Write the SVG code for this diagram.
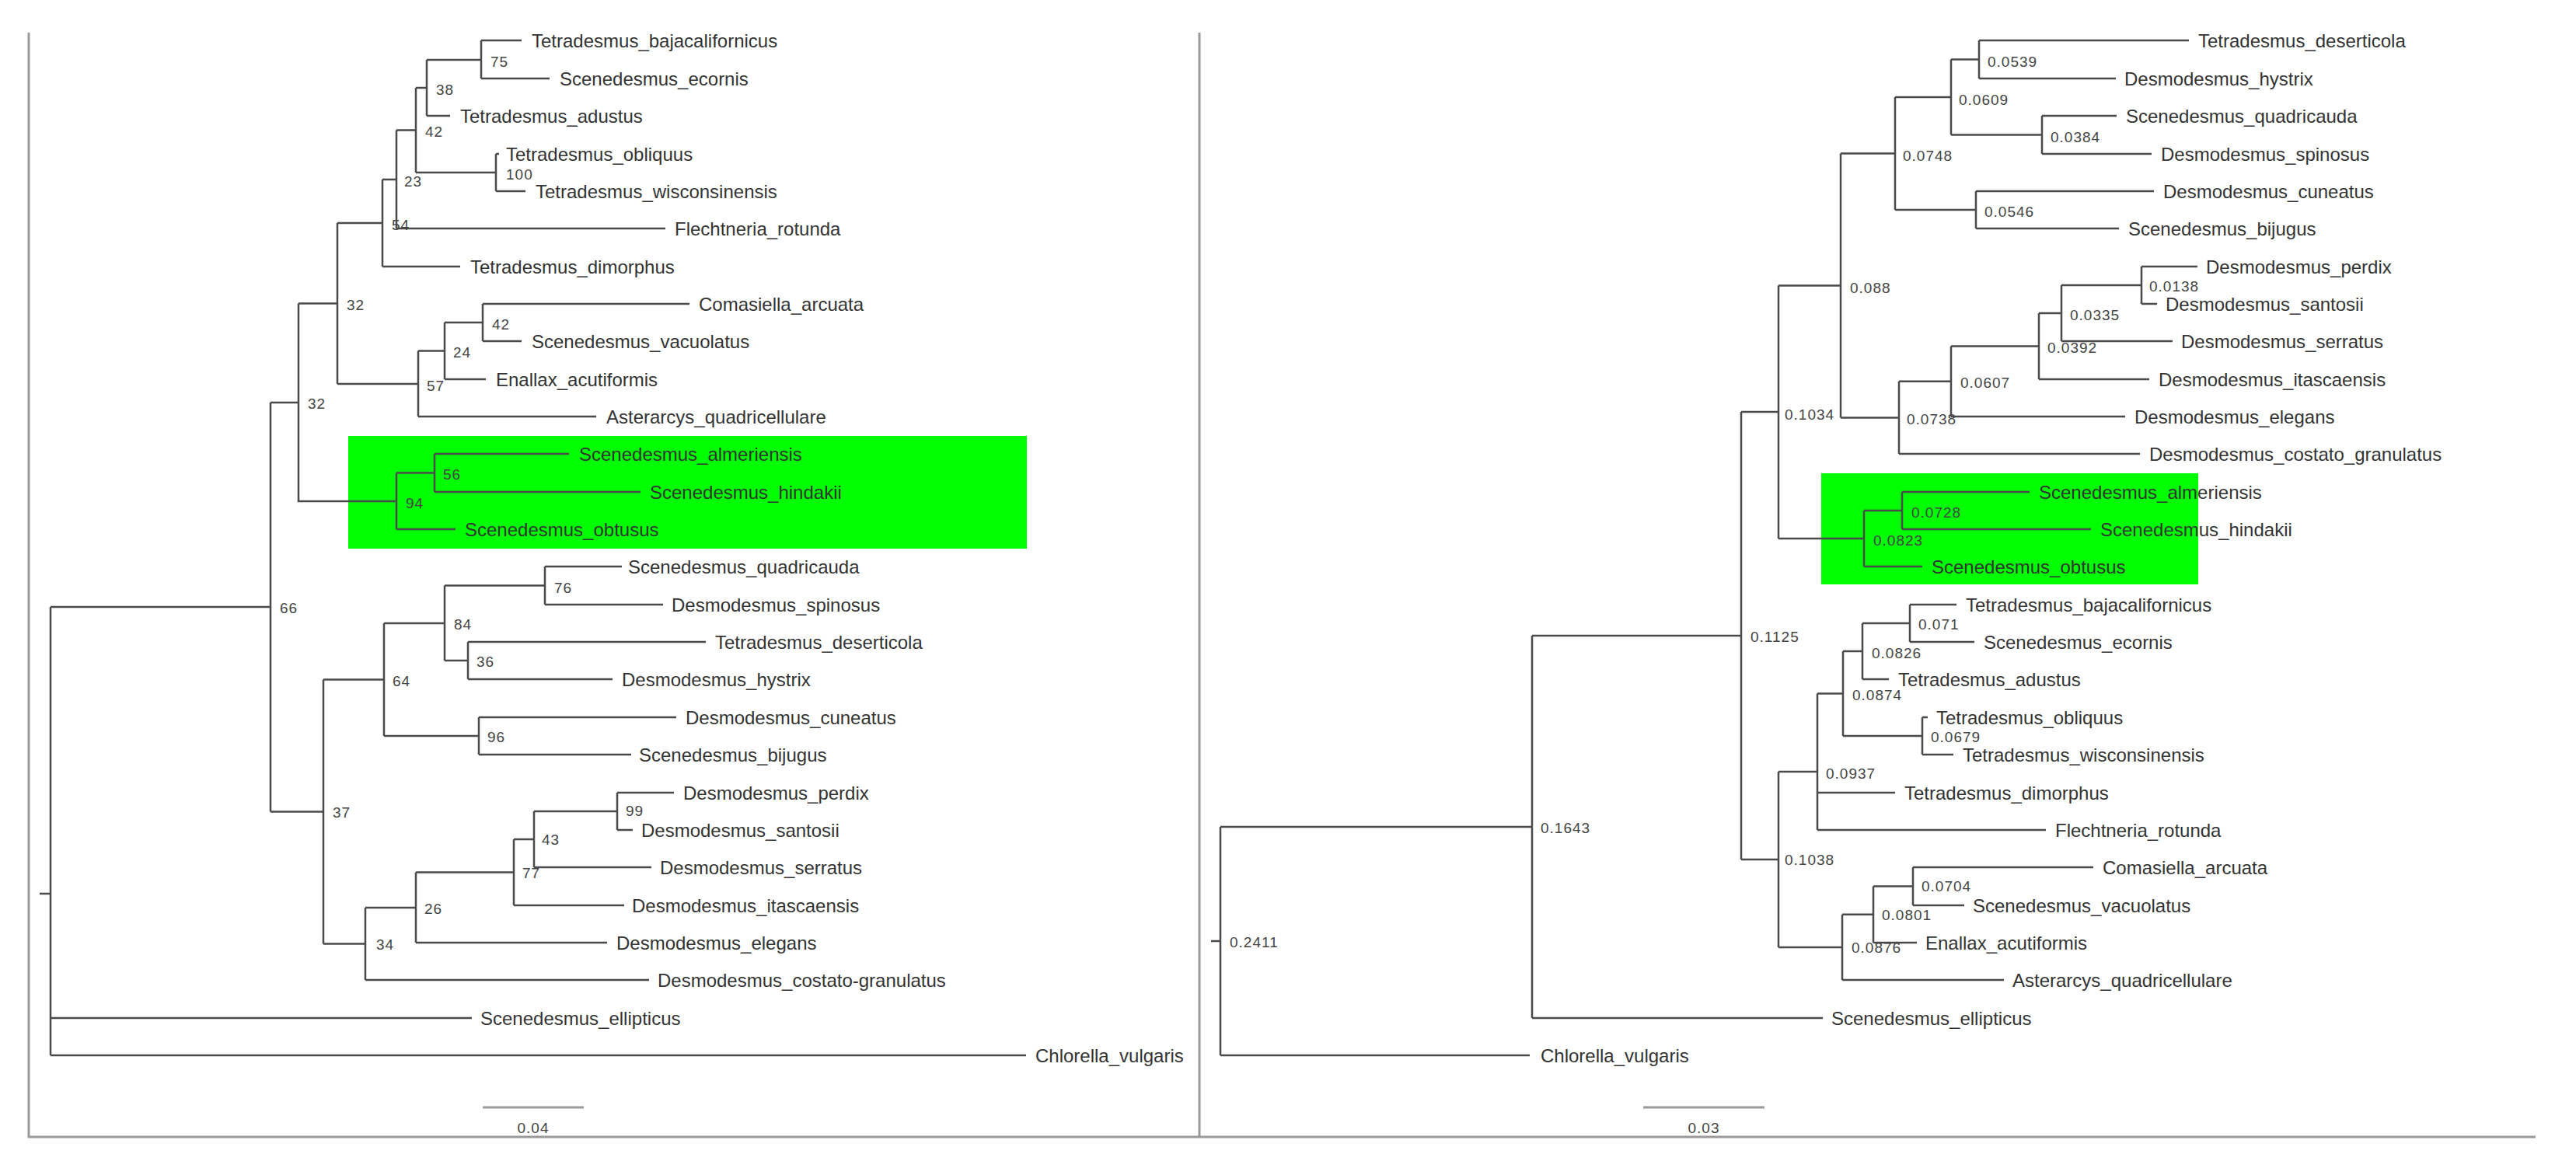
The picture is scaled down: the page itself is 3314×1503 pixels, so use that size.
<svg xmlns="http://www.w3.org/2000/svg" width="3314" height="1503" viewBox="0 0 3314 1503">
<style>
.br{fill:none;stroke:#4a4a4a;stroke-width:2.5}
.fr{fill:none;stroke:#9a9a9a;stroke-width:3}
.lf{font-family:"Liberation Sans",Arial,sans-serif;font-size:24px;fill:#333;dominant-baseline:central}
.sp{font-family:"Liberation Sans",Arial,sans-serif;font-size:19px;fill:#444;letter-spacing:1px;dominant-baseline:central}
.hl{fill:#00ff00}
</style>
<rect width="3314" height="1503" fill="#fff"/>
<g id="frame">
<path class="fr" d="M37,42V1463H3262M1543,42V1463"/>
</g>
<g id="highlights">
<rect class="hl" x="448" y="561" width="873" height="145"/>
<rect class="hl" x="2343" y="609" width="485" height="143"/>
</g>
<g id="connectors">
<path class="br" d="M51,1150H65M65,781V1358M65,1310H607M65,1358H1320M65,781H348
M348,518V1044.5M348,518H384M348,1044.5H416
M384,390.5V645H510M384,390.5H434
M434,287V494M434,287H492M434,494H538
M492,231V343M492,231H510M492,343H592
M510,167.5V294M510,167.5H535M510,294H856
M535,113V222M535,113H549M535,222H638
M549,77V149M549,77H619M549,149H579
M619,52V101M619,52H671M619,101H707
M638,198V246M638,198H642M638,246H676
M538,451.5V536M538,451.5H572M538,536H767
M572,415V488M572,415H621M572,488H625
M621,391V439M621,391H887M621,439H671
M510,608.5V681M510,608.5H559M510,681H586
M559,584V633M559,584H732M559,633H824
M416,874.5V1214.5M416,874.5H494M416,1214.5H470
M494,802V947M494,802H572M494,947H616
M572,753.5V850M572,753.5H701M572,850H602
M701,729V778M701,729H800M701,778H853
M602,826V874M602,826H908M602,874H788
M616,923V971M616,923H870M616,971H812
M470,1168V1261M470,1168H535M470,1261H835
M535,1122.5V1213M535,1122.5H661M535,1213H781
M661,1080V1165M661,1080H687M661,1165H803
M687,1044V1116M687,1044H794M687,1116H838
M794,1020V1068M794,1020H867M794,1068H814"/>
<path class="br" d="M1558,1211H1570M1570,1064V1358M1570,1064H1971M1570,1358H1968
M1971,818V1310M1971,818H2240M1971,1310H2345
M2240,530V1106M2240,530H2288M2240,1106H2288
M2288,367.5V693M2288,367.5H2368M2288,693H2398
M2368,197.5V537.4M2368,197.5H2438M2368,537.4H2443
M2438,125V270M2438,125H2510M2438,270H2542
M2510,76.5V173.5M2510,76.5H2546M2510,173.5H2627
M2546,52V101M2546,52H2816M2546,101H2722
M2627,149V198M2627,149H2723M2627,198H2768
M2542,246V294M2542,246H2771M2542,294H2726
M2443,490.8V584M2443,490.8H2510M2443,584H2753
M2510,445.5V536M2510,445.5H2623M2510,536H2734
M2623,403V488M2623,403H2652M2623,488H2765
M2652,367V439M2652,367H2755M2652,439H2795
M2755,343V391M2755,343H2827M2755,391H2775
M2398,657V729M2398,657H2447M2398,729H2473
M2447,633V681M2447,633H2611M2447,681H2690
M2288,993V1219M2288,993H2338M2288,1219H2370
M2338,892.5V1068M2338,892.5H2371M2338,1020H2438M2338,1068H2632
M2371,838V947M2371,838H2396M2371,947H2473
M2396,802V874M2396,802H2457M2396,874H2430
M2457,778V826M2457,778H2517M2457,826H2540
M2473,923V971M2473,923H2480M2473,971H2513
M2370,1176.8V1261M2370,1176.8H2410M2370,1261H2578
M2410,1140.5V1213M2410,1140.5H2461M2410,1213H2466
M2461,1116V1165M2461,1116H2693M2461,1165H2527"/>
<path class="fr" d="M621,1425H751M2114,1425H2270"/>
</g>
<g id="left-leaves">
<g id="L_bajacalifornicus"><text class="lf" x="684" y="52">Tetradesmus_bajacalifornicus</text></g>
<g id="L_ecornis"><text class="lf" x="720" y="101">Scenedesmus_ecornis</text></g>
<g id="L_adustus"><text class="lf" x="592" y="149">Tetradesmus_adustus</text></g>
<g id="L_obliquus"><text class="lf" x="651" y="198">Tetradesmus_obliquus</text></g>
<g id="L_wisconsinensis"><text class="lf" x="689" y="246">Tetradesmus_wisconsinensis</text></g>
<g id="L_rotunda"><text class="lf" x="868" y="294">Flechtneria_rotunda</text></g>
<g id="L_dimorphus"><text class="lf" x="605" y="343">Tetradesmus_dimorphus</text></g>
<g id="L_arcuata"><text class="lf" x="899" y="391">Comasiella_arcuata</text></g>
<g id="L_vacuolatus"><text class="lf" x="684" y="439">Scenedesmus_vacuolatus</text></g>
<g id="L_acutiformis"><text class="lf" x="638" y="488">Enallax_acutiformis</text></g>
<g id="L_quadricellulare"><text class="lf" x="780" y="536">Asterarcys_quadricellulare</text></g>
<g id="L_almeriensis"><text class="lf" x="745" y="584">Scenedesmus_almeriensis</text></g>
<g id="L_hindakii"><text class="lf" x="836" y="633">Scenedesmus_hindakii</text></g>
<g id="L_obtusus"><text class="lf" x="598" y="681">Scenedesmus_obtusus</text></g>
<g id="L_quadricauda"><text class="lf" x="808" y="729">Scenedesmus_quadricauda</text></g>
<g id="L_spinosus"><text class="lf" x="864" y="778">Desmodesmus_spinosus</text></g>
<g id="L_deserticola"><text class="lf" x="920" y="826">Tetradesmus_deserticola</text></g>
<g id="L_hystrix"><text class="lf" x="800" y="874">Desmodesmus_hystrix</text></g>
<g id="L_cuneatus"><text class="lf" x="882" y="923">Desmodesmus_cuneatus</text></g>
<g id="L_bijugus"><text class="lf" x="822" y="971">Scenedesmus_bijugus</text></g>
<g id="L_perdix"><text class="lf" x="879" y="1020">Desmodesmus_perdix</text></g>
<g id="L_santosii"><text class="lf" x="825" y="1068">Desmodesmus_santosii</text></g>
<g id="L_serratus"><text class="lf" x="849" y="1116">Desmodesmus_serratus</text></g>
<g id="L_itascaensis"><text class="lf" x="813" y="1165">Desmodesmus_itascaensis</text></g>
<g id="L_elegans"><text class="lf" x="793" y="1213">Desmodesmus_elegans</text></g>
<g id="L_costato"><text class="lf" x="846" y="1261">Desmodesmus_costato-granulatus</text></g>
<g id="L_ellipticus"><text class="lf" x="618" y="1310">Scenedesmus_ellipticus</text></g>
<g id="L_vulgaris"><text class="lf" x="1332" y="1358">Chlorella_vulgaris</text></g>
</g>
<g id="left-supports">
<g id="S_75"><text class="sp" x="631" y="79">75</text></g>
<g id="S_38"><text class="sp" x="561" y="115">38</text></g>
<g id="S_42a"><text class="sp" x="547" y="169">42</text></g>
<g id="S_100"><text class="sp" x="651" y="224">100</text></g>
<g id="S_23"><text class="sp" x="520" y="233">23</text></g>
<g id="S_54"><text class="sp" x="504" y="289">54</text></g>
<g id="S_32b"><text class="sp" x="446" y="392">32</text></g>
<g id="S_42b"><text class="sp" x="633" y="417">42</text></g>
<g id="S_24"><text class="sp" x="583" y="453">24</text></g>
<g id="S_57"><text class="sp" x="549" y="496">57</text></g>
<g id="S_32a"><text class="sp" x="396" y="519">32</text></g>
<g id="S_56"><text class="sp" x="570" y="610">56</text></g>
<g id="S_94"><text class="sp" x="522" y="647">94</text></g>
<g id="S_66"><text class="sp" x="360" y="782">66</text></g>
<g id="S_76"><text class="sp" x="713" y="756">76</text></g>
<g id="S_84"><text class="sp" x="584" y="803">84</text></g>
<g id="S_36"><text class="sp" x="613" y="851">36</text></g>
<g id="S_64"><text class="sp" x="505" y="876">64</text></g>
<g id="S_96"><text class="sp" x="627" y="948">96</text></g>
<g id="S_37"><text class="sp" x="428" y="1045">37</text></g>
<g id="S_99"><text class="sp" x="805" y="1043">99</text></g>
<g id="S_43"><text class="sp" x="697" y="1080">43</text></g>
<g id="S_77"><text class="sp" x="672" y="1123">77</text></g>
<g id="S_26"><text class="sp" x="546" y="1169">26</text></g>
<g id="S_34"><text class="sp" x="484" y="1215">34</text></g>
<g id="scale-left"><text class="sp" x="686" y="1451" text-anchor="middle">0.04</text></g>
</g>
<g id="right-leaves">
<g id="R_deserticola"><text class="lf" x="2828" y="52">Tetradesmus_deserticola</text></g>
<g id="R_hystrix"><text class="lf" x="2733" y="101">Desmodesmus_hystrix</text></g>
<g id="R_quadricauda"><text class="lf" x="2735" y="149">Scenedesmus_quadricauda</text></g>
<g id="R_spinosus"><text class="lf" x="2780" y="198">Desmodesmus_spinosus</text></g>
<g id="R_cuneatus"><text class="lf" x="2783" y="246">Desmodesmus_cuneatus</text></g>
<g id="R_bijugus"><text class="lf" x="2738" y="294">Scenedesmus_bijugus</text></g>
<g id="R_perdix"><text class="lf" x="2838" y="343">Desmodesmus_perdix</text></g>
<g id="R_santosii"><text class="lf" x="2786" y="391">Desmodesmus_santosii</text></g>
<g id="R_serratus"><text class="lf" x="2806" y="439">Desmodesmus_serratus</text></g>
<g id="R_itascaensis"><text class="lf" x="2777" y="488">Desmodesmus_itascaensis</text></g>
<g id="R_elegans"><text class="lf" x="2746" y="536">Desmodesmus_elegans</text></g>
<g id="R_costato"><text class="lf" x="2765" y="584">Desmodesmus_costato_granulatus</text></g>
<g id="R_almeriensis"><text class="lf" x="2623" y="633">Scenedesmus_almeriensis</text></g>
<g id="R_hindakii"><text class="lf" x="2702" y="681">Scenedesmus_hindakii</text></g>
<g id="R_obtusus"><text class="lf" x="2485" y="729">Scenedesmus_obtusus</text></g>
<g id="R_bajacalifornicus"><text class="lf" x="2529" y="778">Tetradesmus_bajacalifornicus</text></g>
<g id="R_ecornis"><text class="lf" x="2552" y="826">Scenedesmus_ecornis</text></g>
<g id="R_adustus"><text class="lf" x="2442" y="874">Tetradesmus_adustus</text></g>
<g id="R_obliquus"><text class="lf" x="2491" y="923">Tetradesmus_obliquus</text></g>
<g id="R_wisconsinensis"><text class="lf" x="2525" y="971">Tetradesmus_wisconsinensis</text></g>
<g id="R_dimorphus"><text class="lf" x="2450" y="1020">Tetradesmus_dimorphus</text></g>
<g id="R_rotunda"><text class="lf" x="2644" y="1068">Flechtneria_rotunda</text></g>
<g id="R_arcuata"><text class="lf" x="2705" y="1116">Comasiella_arcuata</text></g>
<g id="R_vacuolatus"><text class="lf" x="2538" y="1165">Scenedesmus_vacuolatus</text></g>
<g id="R_acutiformis"><text class="lf" x="2477" y="1213">Enallax_acutiformis</text></g>
<g id="R_quadricellulare"><text class="lf" x="2589" y="1261">Asterarcys_quadricellulare</text></g>
<g id="R_ellipticus"><text class="lf" x="2356" y="1310">Scenedesmus_ellipticus</text></g>
<g id="R_vulgaris"><text class="lf" x="1982" y="1358">Chlorella_vulgaris</text></g>
</g>
<g id="right-supports">
<g id="S_2411"><text class="sp" x="1582" y="1212">0.2411</text></g>
<g id="S_1643"><text class="sp" x="1982" y="1065">0.1643</text></g>
<g id="S_1125"><text class="sp" x="2252" y="819">0.1125</text></g>
<g id="S_1034"><text class="sp" x="2296" y="533">0.1034</text></g>
<g id="S_088"><text class="sp" x="2380" y="370">0.088</text></g>
<g id="S_0748"><text class="sp" x="2448" y="200">0.0748</text></g>
<g id="S_0609"><text class="sp" x="2520" y="128">0.0609</text></g>
<g id="S_0539"><text class="sp" x="2557" y="79">0.0539</text></g>
<g id="S_0384"><text class="sp" x="2638" y="176">0.0384</text></g>
<g id="S_0546"><text class="sp" x="2553" y="272">0.0546</text></g>
<g id="S_0738"><text class="sp" x="2453" y="539">0.0738</text></g>
<g id="S_0607"><text class="sp" x="2522" y="492">0.0607</text></g>
<g id="S_0392"><text class="sp" x="2634" y="447">0.0392</text></g>
<g id="S_0335"><text class="sp" x="2663" y="405">0.0335</text></g>
<g id="S_0138"><text class="sp" x="2765" y="368">0.0138</text></g>
<g id="S_0823"><text class="sp" x="2410" y="695">0.0823</text></g>
<g id="S_0728"><text class="sp" x="2459" y="659">0.0728</text></g>
<g id="S_1038"><text class="sp" x="2296" y="1106">0.1038</text></g>
<g id="S_0937"><text class="sp" x="2349" y="995">0.0937</text></g>
<g id="S_0874"><text class="sp" x="2383" y="894">0.0874</text></g>
<g id="S_0826"><text class="sp" x="2408" y="840">0.0826</text></g>
<g id="S_071"><text class="sp" x="2468" y="803">0.071</text></g>
<g id="S_0679"><text class="sp" x="2484" y="948">0.0679</text></g>
<g id="S_0876"><text class="sp" x="2382" y="1219">0.0876</text></g>
<g id="S_0801"><text class="sp" x="2421" y="1177">0.0801</text></g>
<g id="S_0704"><text class="sp" x="2472" y="1140">0.0704</text></g>
<g id="scale-right"><text class="sp" x="2192" y="1451" text-anchor="middle">0.03</text></g>
</g>
</svg>
